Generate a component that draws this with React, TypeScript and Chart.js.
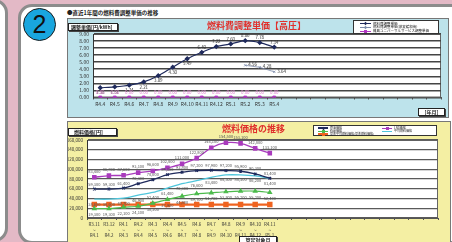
import React, { useEffect, useRef } from 'react';
import { Chart, registerables } from 'chart.js';
Chart.register(...registerables);

const FONT = '"Noto Sans CJK JP", "Noto Sans", sans-serif';

// ---- top chart data ----
const topMonths = ['R4.4', 'R4.5', 'R4.6', 'R4.7', 'R4.8', 'R4.9', 'R4.10', 'R4.11', 'R4.12', 'R5.1', 'R5.2', 'R5.3', 'R5.4'];
const topSlotCount = 24;
const unitPrice = [1.38, 1.51, 1.74, 2.21, 3.09, 4.3, 5.49, 6.4, 7.22, 7.6, 8.06, 7.78, 7.14];
const unitPriceRelief = [null, null, null, null, null, null, null, null, null, null, 4.56, 4.28, 3.64];
const islandPrice = [0, 0, 0, 0, 0, 0, 0, 0, 0, 0, 0, 0, 0];
const topSeriesNames = ['燃料費調整単価', '燃料費調整単価(激変緩和後)', '離島ユニバーサルサービス調整単価'];

// ---- bottom chart data ----
const fuelFrom = ['R3.11', 'R3.12', 'R4.1', 'R4.2', 'R4.3', 'R4.4', 'R4.5', 'R4.6', 'R4.7', 'R4.8', 'R4.9', 'R4.10', 'R4.11'];
const fuelTo = ['R4.1', 'R4.2', 'R4.3', 'R4.4', 'R4.5', 'R4.6', 'R4.7', 'R4.8', 'R4.9', 'R4.10', 'R4.11', 'R4.12', 'R5.1'];
const lngPrice = [83400, 86900, 87600, 93100, 96600, 102800, 111000, 122800, 144100, 154500, 153100, 142800, 133100];
const crudePrice = [59300, 59300, 61400, 70300, 78600, 89000, 93800, 97200, 97900, 97200, 95900, 90300, 81400];
const avgFuelPrice = [38600, 38600, 40700, 46900, 52400, 61400, 70300, 76600, 83400, 88300, 88300, 86200, 81400];
const coalPrice = [19300, 19300, 22100, 24100, 30300, 37900, 44800, 49700, 51700, 53800, 55200, 55200, 52400];
const basePrice = [27600, 27600, 27600, 27600, 27600, 27600, 27600, 27600, 27600, 27600, 27600, 27600, 27600];
const fuelSeriesNames = ['LNG価格', '原油価格', '平均燃料価格', '石炭価格', '基準平均燃料価格'];

const C = {
  navy: '#1f2a5c',
  relief: '#7d8cab',
  magenta: '#b137c2',
  pinkLabel: '#e58ad6',
  purple: '#a93bbd',
  cyan: '#4fc6dc',
  green: '#4cbb4c',
  orange: '#f0631f',
};

const plotBg = {
  id: 'plotBg',
  beforeDraw(chart: any) {
    const { ctx, chartArea: a } = chart;
    ctx.save();
    ctx.fillStyle = '#ffffff';
    ctx.fillRect(a.left, a.top, a.width, a.height);
    ctx.strokeStyle = '#666';
    ctx.lineWidth = 1;
    ctx.strokeRect(a.left + 0.5, a.top + 0.5, a.width - 1, a.height - 1);
    ctx.restore();
  },
};

const valueLabels = {
  id: 'valueLabels',
  afterDatasetsDraw(chart: any) {
    const ctx = chart.ctx;
    chart.data.datasets.forEach((ds: any, di: number) => {
      const cfg = ds.valueLabel;
      if (!cfg) return;
      const meta = chart.getDatasetMeta(di);
      ctx.save();
      ctx.font = `${cfg.size || 4.5}px ${FONT}`;
      ctx.fillStyle = cfg.color;
      meta.data.forEach((el: any, i: number) => {
        const v = ds.data[i];
        if (v == null) return;
        const pos = typeof cfg.pos === 'function' ? cfg.pos(i) : cfg.pos;
        let x = el.x;
        let y = el.y;
        const d = cfg.dist || 5;
        ctx.textAlign = 'center';
        ctx.textBaseline = 'middle';
        if (pos === 'above') y -= d;
        else if (pos === 'below') y += d;
        else if (pos === 'right') {
          ctx.textAlign = 'left';
          x += 3;
          y -= 1;
        }
        ctx.fillText(cfg.fmt(v), x, y);
      });
      ctx.restore();
    });
  },
};

const fmtYen = (v: number) => Number(v).toLocaleString('en-US');

function Swatch({ color, marker, left, top, width = 10, thick = 1 }: any) {
  return (
    <div style={{ position: 'absolute', left, top, width, height: 4 }}>
      <div style={{ position: 'absolute', left: 0, top: 2 - thick / 2, width, height: thick, background: color }} />
      {marker && (
        <div style={{ position: 'absolute', left: width / 2 - 1.5, top: 0.5, width: 3, height: 3, background: color, transform: marker === 'diamond' ? 'rotate(45deg) scale(0.8)' : 'none' }} />
      )}
    </div>
  );
}

function Txt({ left, top, size, children, color = '#222', bold = false, style = {} }: any) {
  return (
    <div style={{ position: 'absolute', left, top, fontSize: size, lineHeight: `${size + 1}px`, color, fontWeight: bold ? 700 : 400, whiteSpace: 'nowrap', ...style }}>
      {children}
    </div>
  );
}

const boxStyle: any = {
  position: 'absolute',
  background: '#fff',
  border: '1px solid #222',
  boxShadow: '1px 1px 0 #444',
  boxSizing: 'border-box',
  fontSize: 5,
  lineHeight: '6px',
  color: '#222',
  whiteSpace: 'nowrap',
  fontWeight: 700,
};

export default function App() {
  const topRef = useRef<HTMLCanvasElement>(null);
  const botRef = useRef<HTMLCanvasElement>(null);

  useEffect(() => {
    document.body.style.margin = '0';
    const topLabels = [...topMonths, ...Array(topSlotCount - topMonths.length).fill('')];
    const top = new Chart(topRef.current as HTMLCanvasElement, {
      type: 'line',
      data: {
        labels: topLabels,
        datasets: [
          {
            label: topSeriesNames[0],
            data: unitPrice,
            borderColor: C.navy,
            backgroundColor: C.navy,
            borderWidth: 1.2,
            pointStyle: 'rectRot',
            pointRadius: 1.8,
            tension: 0.3,
            valueLabel: { pos: (i: number) => (i < 7 ? 'below' : 'above'), color: '#333', fmt: (v: number) => v.toFixed(2) },
          } as any,
          {
            label: topSeriesNames[1],
            data: unitPriceRelief,
            borderColor: C.relief,
            backgroundColor: C.relief,
            borderWidth: 0.8,
            pointStyle: 'crossRot',
            pointRadius: 1.6,
            valueLabel: { pos: 'right', color: '#333', fmt: (v: number) => v.toFixed(2) },
          } as any,
          {
            label: topSeriesNames[2],
            data: islandPrice,
            borderColor: C.magenta,
            backgroundColor: C.magenta,
            borderWidth: 1,
            pointStyle: 'rect',
            pointRadius: 2,
            valueLabel: { pos: 'above', color: C.pinkLabel, fmt: (v: number) => v.toFixed(2) },
          } as any,
        ],
      },
      options: {
        animation: false,
        responsive: false,
        devicePixelRatio: 1,
        layout: { padding: { top: 15, right: 7, left: 0, bottom: 0 } },
        plugins: { legend: { display: false }, tooltip: { enabled: false } },
        scales: {
          x: {
            offset: true,
            grid: { drawOnChartArea: false, drawTicks: true, tickLength: 2, color: '#555', offset: true },
            border: { color: '#555' },
            ticks: { autoSkip: false, maxRotation: 0, padding: 2, font: { size: 5, family: FONT }, color: '#333' },
            afterFit: (s: any) => { s.height = 19.5; },
          },
          y: {
            min: 0,
            max: 9,
            ticks: { stepSize: 1, autoSkip: false, callback: (v: any) => Number(v).toFixed(2), font: { size: 5, family: FONT }, color: '#333', padding: 4 },
            grid: { color: '#444', lineWidth: 1.6, drawTicks: false },
            border: { display: true, color: '#333' },
            afterFit: (s: any) => { s.width = 25; },
          },
        },
      } as any,
      plugins: [plotBg, valueLabels],
    });

    const fuelLabels = [...fuelFrom.map((f, i) => [f, '~', fuelTo[i]]), ...Array(topSlotCount - fuelFrom.length).fill('')];
    const gray = '#555';
    const bot = new Chart(botRef.current as HTMLCanvasElement, {
      type: 'line',
      data: {
        labels: fuelLabels,
        datasets: [
          { label: fuelSeriesNames[0], data: lngPrice, borderColor: C.purple, backgroundColor: C.purple, borderWidth: 1.3, pointStyle: 'rect', pointRadius: 2.3, tension: 0.3, valueLabel: { pos: 'above', dist: 6, color: gray, fmt: fmtYen, size: 4 } } as any,
          { label: fuelSeriesNames[1], data: crudePrice, borderColor: C.navy, backgroundColor: C.navy, borderWidth: 1.3, pointStyle: 'crossRot', pointRadius: 1.8, tension: 0.3, valueLabel: { pos: 'above', dist: 5, color: gray, fmt: fmtYen, size: 4 } } as any,
          { label: fuelSeriesNames[2], data: avgFuelPrice, borderColor: C.cyan, backgroundColor: C.cyan, borderWidth: 1.3, pointRadius: 0, tension: 0.3, valueLabel: { pos: 'below', dist: 5, color: gray, fmt: fmtYen, size: 4 } } as any,
          { label: fuelSeriesNames[3], data: coalPrice, borderColor: C.green, backgroundColor: C.green, borderWidth: 1.2, pointStyle: 'triangle', pointRadius: 2, tension: 0.3, valueLabel: { pos: 'below', dist: 6, color: gray, fmt: fmtYen, size: 4 } } as any,
          { label: fuelSeriesNames[4], data: basePrice, borderColor: C.orange, backgroundColor: C.orange, borderWidth: 2.2, pointStyle: 'rect', pointRadius: 2.3 } as any,
        ],
      },
      options: {
        animation: false,
        responsive: false,
        devicePixelRatio: 1,
        layout: { padding: { top: 18, right: 12, left: 0, bottom: 0 } },
        plugins: { legend: { display: false }, tooltip: { enabled: false } },
        scales: {
          x: {
            offset: true,
            grid: { drawOnChartArea: false, drawTicks: true, tickLength: 2, color: '#555', offset: true },
            border: { color: '#555' },
            ticks: { autoSkip: false, maxRotation: 0, padding: 2, font: { size: 4.5, family: FONT, lineHeight: 1.2 }, color: '#333' },
            afterFit: (s: any) => { s.height = 25; },
          },
          y: {
            min: 0,
            max: 160000,
            ticks: { stepSize: 20000, autoSkip: false, callback: (v: any) => fmtYen(v), font: { size: 4.5, family: FONT }, color: '#333', padding: 4 },
            grid: { color: '#5a5a5a', lineWidth: 1.3, drawTicks: false },
            border: { display: true, color: '#333' },
            afterFit: (s: any) => { s.width = 19; },
          },
        },
      } as any,
      plugins: [plotBg, valueLabels],
    });

    return () => {
      top.destroy();
      bot.destroy();
    };
  }, []);

  return (
    <div style={{ position: 'fixed', left: 0, top: 0, width: 452, height: 242, overflow: 'hidden', background: '#e3b9c6', fontFamily: FONT }}>
      {/* left panel */}
      <div style={{ position: 'absolute', left: -30, top: -1, width: 32, height: 237, background: '#fff', border: '3px solid #8c8c8c', borderRadius: 14 }} />
      {/* main panel */}
      <div style={{ position: 'absolute', left: 18, top: 4, width: 470, height: 234, background: '#fff', border: '3px solid #8c8c8c', borderRadius: 14 }} />
      {/* circled number */}
      <div style={{ position: 'absolute', left: 23, top: 8, width: 31, height: 31, borderRadius: '50%', background: '#19a6de', border: '1.5px solid #1a1a1a', textAlign: 'center', fontFamily: '"Liberation Sans", Arial, sans-serif', fontSize: 25, lineHeight: '31px', color: '#111' }}>2</div>
      <Txt left={67} top={10} size={5.5} bold>●直近1年間の燃料費調整単価の推移</Txt>

      {/* top chart frame */}
      <div style={{ position: 'absolute', left: 67, top: 18, width: 380, height: 98, border: '1px solid #777', background: '#bde3eb' }}>
        <canvas ref={topRef} width={380} height={98} style={{ display: 'block', width: 380, height: 98 }} />
      </div>
      <Txt left={207} top={21} size={9} bold color="#e0302c">燃料費調整単価【高圧】</Txt>
      <div style={{ ...boxStyle, left: 68, top: 23, width: 50, height: 8, paddingLeft: 2 }}>調整単価[円/kWh]</div>
      <div style={{ position: 'absolute', left: 353, top: 20, width: 86, height: 14, background: '#fff', border: '1px solid #333', boxSizing: 'border-box' }}>
        <Swatch color={C.navy} marker="diamond" left={6} top={0.5} width={11} />
        <Txt left={19} top={0.5} size={3.5}>{topSeriesNames[0]}</Txt>
        <Swatch color={C.relief} marker="diamond" left={6} top={4.3} width={11} />
        <Txt left={19} top={4.3} size={3.5}>{topSeriesNames[1]}</Txt>
        <Swatch color={C.magenta} marker="square" left={6} top={8.1} width={11} />
        <Txt left={19} top={8.1} size={3.5}>{topSeriesNames[2]}</Txt>
      </div>
      <div style={{ ...boxStyle, left: 418, top: 108, width: 27, height: 8, textAlign: 'center' }}>[年月]</div>

      {/* bottom chart frame */}
      <div style={{ position: 'absolute', left: 67, top: 121, width: 382, height: 125, border: '1px solid #777', background: '#f4efa3' }}>
        <canvas ref={botRef} width={382} height={121} style={{ display: 'block', width: 382, height: 121 }} />
      </div>
      <Txt left={222} top={124} size={9} bold color="#e0302c">燃料価格の推移</Txt>
      <div style={{ ...boxStyle, left: 68, top: 128, width: 49, height: 8, paddingLeft: 5 }}>燃料価格[円]</div>
      <div style={{ position: 'absolute', left: 313, top: 125, width: 124, height: 11, background: '#fff', border: '1px solid #333', boxSizing: 'border-box' }}>
        <Swatch color={C.navy} marker="diamond" left={4} top={0} width={10} thick={1.2} />
        <Txt left={16} top={0} size={3}>{fuelSeriesNames[1]}</Txt>
        <Swatch color={C.green} marker="square" left={4} top={3} width={10} />
        <Txt left={16} top={3} size={3}>{fuelSeriesNames[3]}</Txt>
        <Swatch color={C.orange} marker="square" left={4} top={6} width={10} thick={1.5} />
        <Txt left={16} top={6} size={3}>{fuelSeriesNames[4]}(基準燃料価格)</Txt>
        <Swatch color={C.purple} marker="square" left={68} top={0} width={10} />
        <Txt left={80} top={0} size={3}>{fuelSeriesNames[0]}</Txt>
        <Swatch color={C.cyan} left={68} top={3} width={10} />
        <Txt left={80} top={3} size={3}>{fuelSeriesNames[2]}</Txt>
      </div>
      <div style={{ ...boxStyle, left: 239, top: 236, width: 38, height: 9, textAlign: 'center' }}>算定対象月</div>
    </div>
  );
}
